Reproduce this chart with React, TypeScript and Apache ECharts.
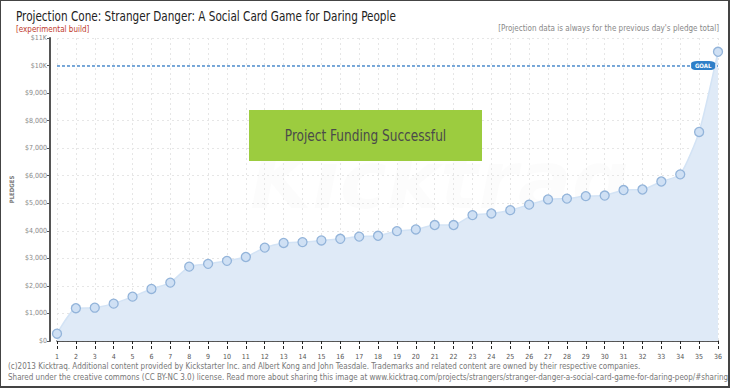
import React, { useEffect, useRef } from "react";
import * as echarts from "echarts";

const days = ["1","2","3","4","5","6","7","8","9","10","11","12","13","14","15","16","17","18","19","20","21","22","23","24","25","26","27","28","29","30","31","32","33","34","35","36"];
const pledges = [265,1190,1210,1356,1610,1890,2120,2700,2800,2910,3050,3390,3560,3590,3650,3710,3790,3820,3990,4050,4210,4210,4570,4630,4750,4950,5140,5170,5260,5280,5480,5500,5790,6050,7590,10500];
const goal = 10000;
const goalDay = "35";
const yMax = 11000;
const yStep = 1000;

const title = "Projection Cone: Stranger Danger: A Social Card Game for Daring People";
const subtitle = "[experimental build]";
const note = "[Projection data is always for the previous day's pledge total]";
const badge = "Project Funding Successful";
const footer1 = "(c)2013 Kicktraq. Additional content provided by Kickstarter Inc. and Albert Kong and John Teasdale. Trademarks and related content are owned by their respective companies.";
const footer2 = "Shared under the creative commons (CC BY-NC 3.0) license. Read more about sharing this image at www.kicktraq.com/projects/strangers/stranger-danger-a-social-card-game-for-daring-peop/#sharing";

const NARROW = "'Liberation Sans Narrow', 'DejaVu Sans Condensed', 'Roboto', sans-serif";

function fmtY(v: number): string {
  if (v >= 10000) return "$" + Math.round(v / 1000) + "K";
  return "$" + v.toLocaleString("en-US");
}

export default function App() {
  const ref = useRef<HTMLDivElement>(null);
  useEffect(() => {
    if (!ref.current) return;
    const chart = echarts.init(ref.current, null, { renderer: "svg" });
    chart.setOption({
      animation: false,
      backgroundColor: "#ffffff",
      grid: { left: 55, right: 12, top: 38, bottom: 47, containLabel: false },
      xAxis: [
        {
          type: "category",
          data: days,
          boundaryGap: false,
          offset: 8,
          axisLine: { show: true, lineStyle: { color: "#222", width: 1.5 } },
          axisTick: { show: true, length: 3, interval: 0, lineStyle: { color: "#222" } },
          axisLabel: { interval: 0, fontSize: 7, color: "#555", margin: 4, fontFamily: NARROW },
          splitLine: { show: true, interval: 0, lineStyle: { color: "#e6e6e6", type: [2, 3] } },
        },
        {
          type: "category",
          data: days,
          boundaryGap: false,
          position: "bottom",
          offset: 8,
          axisLine: { show: false },
          axisTick: { show: true, inside: true, length: 3, interval: 0, lineStyle: { color: "#222" } },
          axisLabel: { show: false },
          splitLine: { show: false },
        },
      ],
      yAxis: {
        type: "value",
        min: 0,
        max: yMax,
        interval: yStep,
        offset: 7,
        name: "PLEDGES",
        nameLocation: "middle",
        nameGap: 36,
        nameTextStyle: { fontSize: 6, color: "#777", fontWeight: "bold", fontFamily: NARROW },
        axisLine: { show: true, lineStyle: { color: "#555", width: 2 } },
        axisTick: { show: true, length: 3, lineStyle: { color: "#555" } },
        axisLabel: { fontSize: 7, color: "#888", margin: 3, formatter: fmtY, fontFamily: NARROW },
        splitLine: { show: true, lineStyle: { color: "#e6e6e6", type: [2, 3] } },
      },
      series: [
        {
          type: "line",
          data: pledges,
          xAxisIndex: 0,
          smooth: 0.2,
          symbol: "circle",
          symbolSize: 9,
          itemStyle: { color: "#cfe0f4", borderColor: "#93b4da", borderWidth: 1.3 },
          lineStyle: { color: "#d3e3f5", width: 1.5 },
          areaStyle: { color: "#dfeaf7", opacity: 1 },
          z: 3,
          markLine: {
            silent: true,
            symbol: "none",
            label: { show: false },
            lineStyle: { color: "#4f8fd0", width: 1.5, type: [3, 2] },
            data: [{ yAxis: goal }],
          },
          markPoint: {
            silent: true,
            symbol: "roundRect",
            symbolSize: [24, 9],
            symbolOffset: [4, 0],
            itemStyle: { color: "#2f7fc8" },
            label: { show: true, formatter: "GOAL", color: "#fff", fontSize: 6, fontWeight: "bold", fontFamily: NARROW },
            data: [{ coord: [goalDay, goal] }],
          },
        },
      ],
      graphic: [
        {
          type: "text",
          x: 250,
          y: 140,
          z: 0,
          silent: true,
          style: { text: "Kicktraq", font: "italic bold 80px 'DejaVu Sans'", fill: "rgba(0,0,0,0.012)" },
        },
        {
          type: "text",
          x: 16,
          y: 9,
          scaleX: 0.83,
          style: { text: title, font: "14px " + NARROW, fill: "#222" },
        },
        {
          type: "text",
          x: 16,
          y: 25,
          style: { text: subtitle, font: "8px " + NARROW, fill: "#c0392b" },
        },
        {
          type: "text",
          right: 11,
          top: 24,
          style: { text: note, font: "8px " + NARROW, fill: "#888" },
        },
        {
          type: "rect",
          x: 249,
          y: 110,
          z: 10,
          shape: { width: 233, height: 51 },
          style: { fill: "#9ccc3f" },
        },
        {
          type: "text",
          x: 365.5,
          y: 136,
          z: 11,
          scaleX: 0.9,
          style: { text: badge, font: "15px " + NARROW, fill: "#4a4a4a", align: "center", verticalAlign: "middle" },
        },
        {
          type: "text",
          x: 8,
          y: 362,
          style: { text: footer1, font: "8px " + NARROW, fill: "#777" },
        },
        {
          type: "text",
          x: 8,
          y: 373,
          style: { text: footer2, font: "8px " + NARROW, fill: "#777" },
        },
        {
          type: "rect",
          x: 0,
          y: 0,
          z: 20,
          silent: true,
          shape: { width: 729, height: 387 },
          style: { fill: "none", stroke: "#444", lineWidth: 2 },
        },
      ],
    });
    return () => chart.dispose();
  }, []);
  return (
    <div
      ref={ref}
      style={{ position: "absolute", left: 0, top: 0, width: 730, height: 388 }}
    />
  );
}
